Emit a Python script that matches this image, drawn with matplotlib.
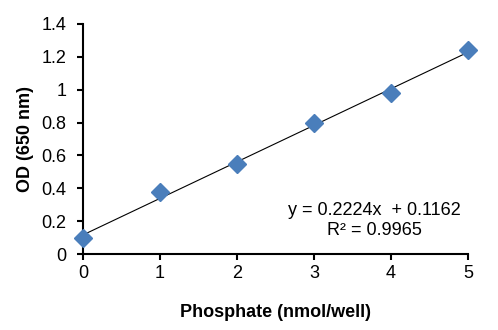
import matplotlib
matplotlib.use("Agg")
import matplotlib.pyplot as plt
import numpy as np

phosphate = [0, 1, 2, 3, 4, 5]
od = [0.095, 0.38, 0.55, 0.80, 0.98, 1.24]
slope = 0.2224
intercept = 0.1162
r2 = 0.9965
x_ticks = [0, 1, 2, 3, 4, 5]
y_ticks = [0, 0.2, 0.4, 0.6, 0.8, 1.0, 1.2, 1.4]
y_tick_labels = ["0", "0.2", "0.4", "0.6", "0.8", "1", "1.2", "1.4"]

plt.rcParams['font.family'] = ['Liberation Sans', 'DejaVu Sans']

fig = plt.figure(figsize=(4.98, 3.30), dpi=100)
ax = fig.add_axes([0.1667, 0.2303, 0.7731, 0.6970])

xs = np.array([phosphate[0], phosphate[-1]])
ax.plot(xs, slope * xs + intercept, color='black', lw=0.8, zorder=2)
ax.plot(phosphate, od, linestyle='none', marker='D', markersize=9,
        color='#4A7EBB', markeredgecolor='#4A7EBB', zorder=3, clip_on=False)

ax.set_xlim(0, 5)
ax.set_ylim(0, 1.4)
ax.set_xticks(x_ticks)
ax.set_yticks(y_ticks)
ax.set_yticklabels(y_tick_labels)
for s in ['top', 'right']:
    ax.spines[s].set_visible(False)
for s in ['left', 'bottom']:
    ax.spines[s].set_linewidth(1.5)
ax.tick_params(axis='both', direction='out', length=4, width=1.5, labelsize=13)
ax.tick_params(axis='y', pad=8)
ax.tick_params(axis='x', pad=4)

ax.text(3.78, 0.205, f"y = {slope}x  + {intercept}\nR² = {r2}", ha='center', va='center',
        fontsize=13, linespacing=1.2)

ax.set_xlabel("Phosphate (nmol/well)", fontsize=13, fontweight='bold', labelpad=16)
ax.set_ylabel("OD (650 nm)", fontsize=13, fontweight='bold', labelpad=5)

fig.savefig("out.png", dpi=100)
